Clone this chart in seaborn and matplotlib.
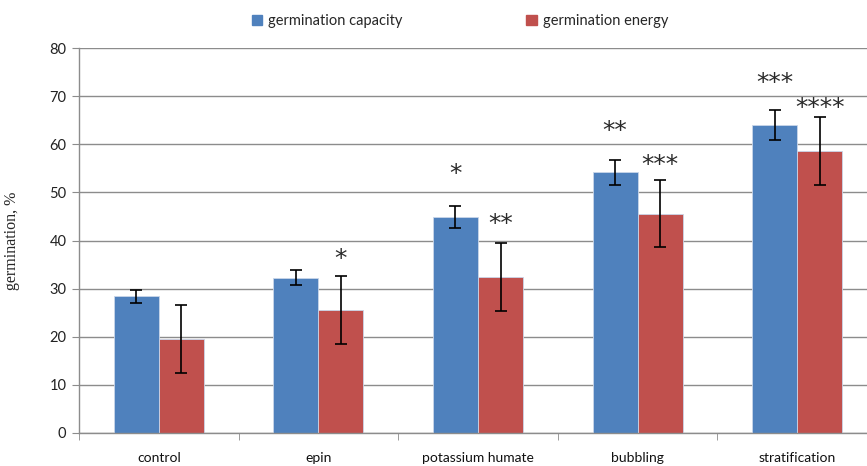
import numpy as np
import pandas as pd
import matplotlib
matplotlib.use('Agg')
import matplotlib.pyplot as plt
import seaborn as sns
from matplotlib.ticker import FixedLocator

#data
treatments=['control','epin','potassium humate','bubbling','stratification']
capacity=[28.4,32.3,44.8,54.2,64.0]
capacity_err=[1.4,1.55,2.3,2.6,3.2]
energy=[19.5,25.6,32.4,45.6,58.6]
energy_err=[7.0,7.05,7.1,7.0,7.1]
capacity_stars=['','','*','**','***']
energy_stars=['','*','**','***','****']
capacity_star_y=[0,0,53.8,62.8,72.7]
energy_star_y=[0,36.2,43.4,55.7,67.5]
series=['germination capacity','germination energy']

df=pd.DataFrame({
    'treatment':treatments*2,
    'germination':capacity+energy,
    'series':[series[0]]*5+[series[1]]*5
})

sns.set_style('white')
plt.rcParams['font.family']=['Lato','DejaVu Sans']

fig=plt.figure(figsize=(8.67,4.66),dpi=100)
ax=fig.add_axes([79/867,33/466,798/867,385/466])

grid_col='#8c8c8c'
ax.set_axisbelow(True)
ax.yaxis.grid(True,color=grid_col,linewidth=1)

width=0.564
sns.barplot(data=df,x='treatment',y='germination',hue='series',
            palette=['#4F81BD','#C0504D'],saturation=1,width=width,ax=ax,
            errorbar=None,edgecolor='#c9d6ea',linewidth=0.6,legend=False)

x=np.arange(len(treatments))
ax.errorbar(x-width/4,capacity,yerr=capacity_err,fmt='none',ecolor='black',
            elinewidth=1.2,capsize=4,capthick=1.2,zorder=5)
ax.errorbar(x+width/4,energy,yerr=energy_err,fmt='none',ecolor='black',
            elinewidth=1.2,capsize=4,capthick=1.2,zorder=5)

#significance marks
for i in range(len(treatments)):
    if capacity_stars[i]:
        ax.text(x[i]-width/4,capacity_star_y[i],capacity_stars[i],ha='center',va='center',
                fontsize=18,color='#2a2a2a',family='DejaVu Sans')
    if energy_stars[i]:
        ax.text(x[i]+width/4,energy_star_y[i],energy_stars[i],ha='center',va='center',
                fontsize=18,color='#2a2a2a',family='DejaVu Sans')

ax.set_ylim(0,80)
ax.set_xlim(-0.5,4.5)
ax.set_yticks(range(0,81,10))
ax.set_xlabel('')
ax.set_ylabel('germination, %',family='Liberation Serif',fontsize=11.5,labelpad=21)

for s in ['top','right']:
    ax.spines[s].set_visible(False)
for s in ['left','bottom']:
    ax.spines[s].set_color(grid_col)
    ax.spines[s].set_linewidth(1)

ax.tick_params(axis='y',direction='out',length=5,color=grid_col,labelsize=10.5,
               labelcolor='#222222',pad=4,left=True)
ax.tick_params(axis='x',which='major',length=0,labelsize=10,labelcolor='#111111',pad=14)
ax.xaxis.set_minor_locator(FixedLocator(np.arange(-0.5,5,1)))
ax.tick_params(axis='x',which='minor',direction='out',length=5,color=grid_col,bottom=True)

#legend on top
handles=[plt.Rectangle((0,0),1,1,color='#4F81BD'),plt.Rectangle((0,0),1,1,color='#C0504D')]
fig.legend(handles,series,loc='center',bbox_to_anchor=(460/867,1-21/466),ncol=2,
           frameon=False,fontsize=10.5,handlelength=0.7,handleheight=0.7,
           handletextpad=0.4,columnspacing=8.5)

fig.savefig('out.png',dpi=100)
